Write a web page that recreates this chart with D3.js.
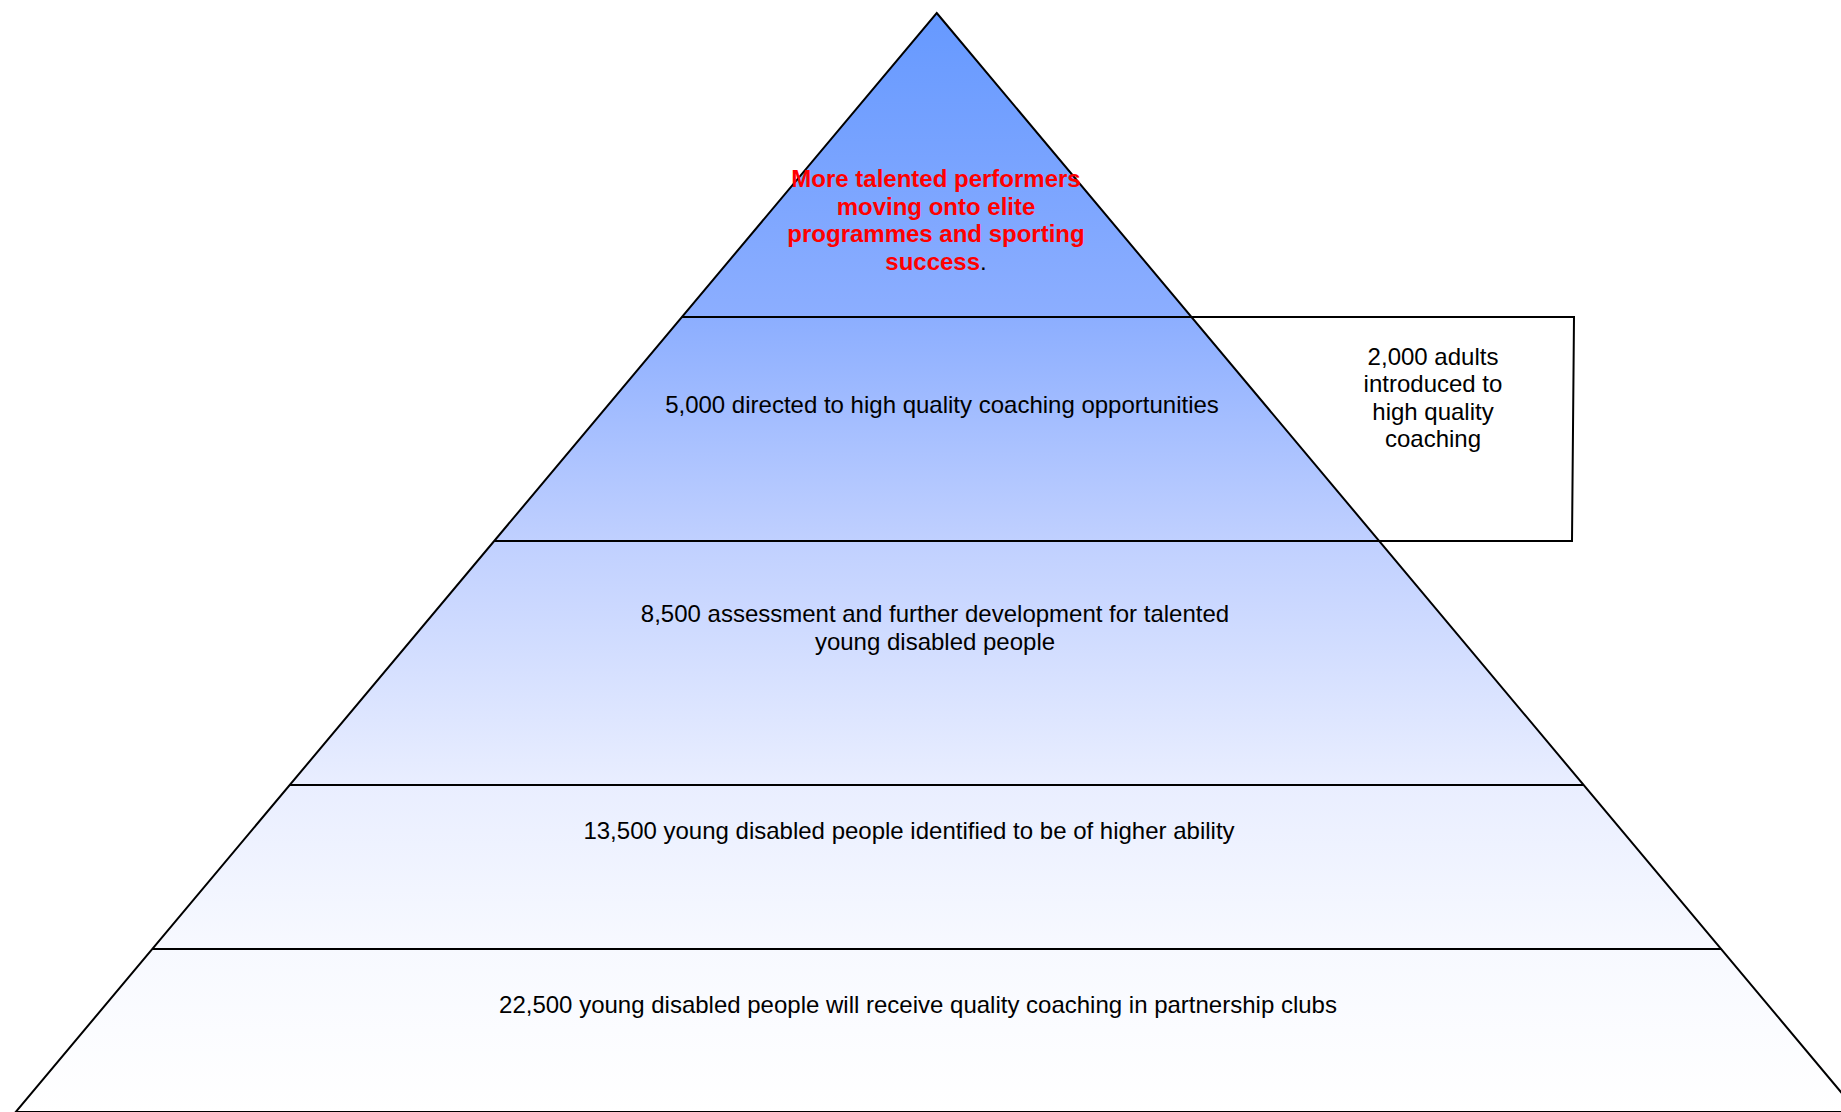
<!DOCTYPE html>
<html>
<head>
<meta charset="utf-8">
<script src="https://cdn.jsdelivr.net/npm/d3@7/dist/d3.min.js"></script>
<style>
  html, body { margin: 0; padding: 0; background: #fff; }
  svg { display: block; }
  text { font-family: "Liberation Sans", Arial, sans-serif; }
</style>
</head>
<body>
<script>
// ---- data ----
const tierLabels = [
  ["More talented performers", "moving onto elite", "programmes and sporting", "success"],
  ["5,000 directed to high quality coaching opportunities"],
  ["8,500 assessment and further development for talented", "young disabled people"],
  ["13,500 young disabled people identified to be of higher ability"],
  ["22,500 young disabled people will receive quality coaching in partnership clubs"]
];
// tier boundaries as share of pyramid height (top = 0, base = 1)
const tierBounds = [0, 0.2766, 0.4804, 0.7025, 0.8517, 1];
const sideLabel = ["2,000 adults", "introduced to", "high quality", "coaching"];
const sideTier = 1;

// ---- layout ----
const W = 1841, H = 1112;
const apex = { x: 936.7, y: 13 };
const baseY = 1112, halfBase = 921;
const y = d3.scaleLinear().domain([0, 1]).range([apex.y, baseY]);
const halfW = d3.scaleLinear().domain([0, 1]).range([0, halfBase]);

const svg = d3.select("body").append("svg").attr("width", W).attr("height", H);

const defs = svg.append("defs");
const grad = defs.append("linearGradient").attr("id", "pg")
  .attr("gradientUnits", "userSpaceOnUse")
  .attr("x1", 0).attr("x2", 0).attr("y1", apex.y).attr("y2", baseY);
[[0, "#6699ff"], [0.2766, "#8caeff"], [0.4804, "#c0d0ff"], [0.7025, "#e9eeff"], [0.8517, "#f7f9ff"], [1, "#ffffff"]]
  .forEach(s => grad.append("stop").attr("offset", s[0]).attr("stop-color", s[1]));

// side box (behind pyramid)
const boxTop = y(tierBounds[sideTier]), boxBot = y(tierBounds[sideTier + 1]);
svg.append("path")
  .attr("d", `M1000,${boxTop} L1574,${boxTop} L1572,${boxBot} L1000,${boxBot} Z`)
  .attr("fill", "#fff").attr("stroke", "#000").attr("stroke-width", 2);

// pyramid
svg.append("path")
  .attr("d", `M${apex.x},${apex.y} L${apex.x + halfBase},${baseY} L${apex.x - halfBase},${baseY} Z`)
  .attr("fill", "url(#pg)").attr("stroke", "#000").attr("stroke-width", 2)
  .attr("stroke-linejoin", "miter");

// tier lines
svg.selectAll("line.tier").data(tierBounds.slice(1, -1)).enter().append("line")
  .attr("class", "tier")
  .attr("x1", d => apex.x - halfW(d)).attr("x2", d => apex.x + halfW(d))
  .attr("y1", d => y(d)).attr("y2", d => y(d))
  .attr("stroke", "#000").attr("stroke-width", 2);

// extend top box line over box
svg.append("line").attr("x1", apex.x + halfW(tierBounds[sideTier])).attr("x2", 1574)
  .attr("y1", boxTop).attr("y2", boxTop).attr("stroke", "#000").attr("stroke-width", 2);

// labels
const labelPos = [
  { x: 936, y0: 187, dy: 27.7, bold: true, color: "#ff0000" },
  { x: 942, y0: 413, dy: 27 },
  { x: 935, y0: 622, dy: 27.5 },
  { x: 909, y0: 839, dy: 27 },
  { x: 918, y0: 1013, dy: 27 }
];
const fontSize = 24;
tierLabels.forEach((lines, i) => {
  const p = labelPos[i];
  const t = svg.append("text")
    .attr("text-anchor", "middle")
    .attr("font-size", fontSize)
    .attr("font-weight", p.bold ? "bold" : "normal")
    .attr("fill", p.color || "#000");
  lines.forEach((ln, j) => {
    const ts = t.append("tspan").attr("x", p.x).attr("y", p.y0 + j * p.dy).text(ln);
    if (i === 0 && j === lines.length - 1) {
      t.append("tspan").attr("fill", "#000").attr("font-weight", "normal").text(".");
    }
  });
});

const st = svg.append("text").attr("text-anchor", "middle").attr("font-size", fontSize).attr("fill", "#000");
sideLabel.forEach((ln, j) => st.append("tspan").attr("x", 1433).attr("y", 365 + j * 27.3).text(ln));
</script>
</body>
</html>
